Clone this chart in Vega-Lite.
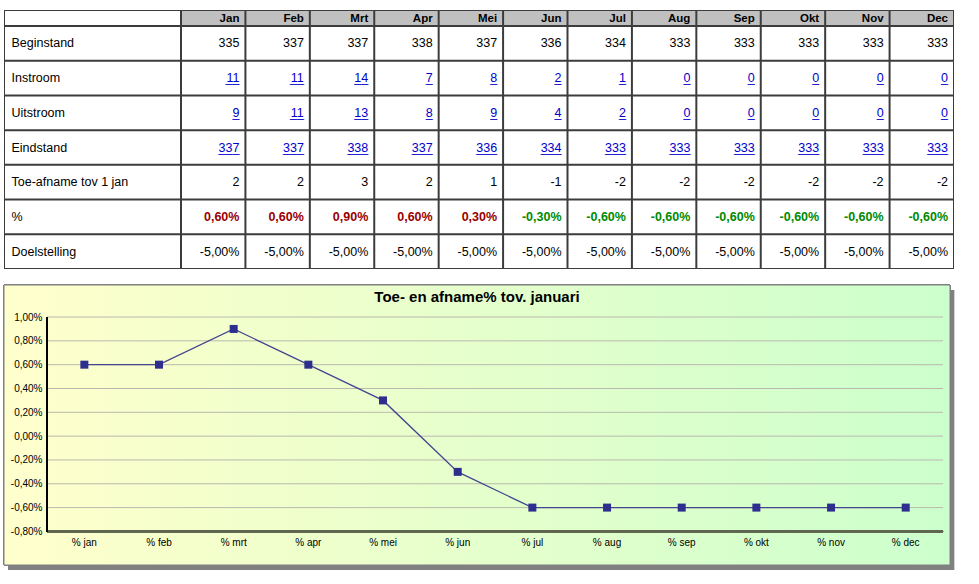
{
  "$schema": "https://vega.github.io/schema/vega-lite/v6.json",
  "padding": {"left": 3, "top": 10, "right": 5, "bottom": 5},
  "background": "white",
  "config": {
    "view": {"stroke": null},
    "font": "Liberation Sans",
    "text": {"font": "Liberation Sans"}
  },
  "datasets": {
    "table": [
      {"row": "Beginstand", "month": "Jan", "v": 335}, {"row": "Beginstand", "month": "Feb", "v": 337}, {"row": "Beginstand", "month": "Mrt", "v": 337}, {"row": "Beginstand", "month": "Apr", "v": 338}, {"row": "Beginstand", "month": "Mei", "v": 337}, {"row": "Beginstand", "month": "Jun", "v": 336}, {"row": "Beginstand", "month": "Jul", "v": 334}, {"row": "Beginstand", "month": "Aug", "v": 333}, {"row": "Beginstand", "month": "Sep", "v": 333}, {"row": "Beginstand", "month": "Okt", "v": 333}, {"row": "Beginstand", "month": "Nov", "v": 333}, {"row": "Beginstand", "month": "Dec", "v": 333},
      {"row": "Instroom", "month": "Jan", "v": 11}, {"row": "Instroom", "month": "Feb", "v": 11}, {"row": "Instroom", "month": "Mrt", "v": 14}, {"row": "Instroom", "month": "Apr", "v": 7}, {"row": "Instroom", "month": "Mei", "v": 8}, {"row": "Instroom", "month": "Jun", "v": 2}, {"row": "Instroom", "month": "Jul", "v": 1}, {"row": "Instroom", "month": "Aug", "v": 0}, {"row": "Instroom", "month": "Sep", "v": 0}, {"row": "Instroom", "month": "Okt", "v": 0}, {"row": "Instroom", "month": "Nov", "v": 0}, {"row": "Instroom", "month": "Dec", "v": 0},
      {"row": "Uitstroom", "month": "Jan", "v": 9}, {"row": "Uitstroom", "month": "Feb", "v": 11}, {"row": "Uitstroom", "month": "Mrt", "v": 13}, {"row": "Uitstroom", "month": "Apr", "v": 8}, {"row": "Uitstroom", "month": "Mei", "v": 9}, {"row": "Uitstroom", "month": "Jun", "v": 4}, {"row": "Uitstroom", "month": "Jul", "v": 2}, {"row": "Uitstroom", "month": "Aug", "v": 0}, {"row": "Uitstroom", "month": "Sep", "v": 0}, {"row": "Uitstroom", "month": "Okt", "v": 0}, {"row": "Uitstroom", "month": "Nov", "v": 0}, {"row": "Uitstroom", "month": "Dec", "v": 0},
      {"row": "Eindstand", "month": "Jan", "v": 337}, {"row": "Eindstand", "month": "Feb", "v": 337}, {"row": "Eindstand", "month": "Mrt", "v": 338}, {"row": "Eindstand", "month": "Apr", "v": 337}, {"row": "Eindstand", "month": "Mei", "v": 336}, {"row": "Eindstand", "month": "Jun", "v": 334}, {"row": "Eindstand", "month": "Jul", "v": 333}, {"row": "Eindstand", "month": "Aug", "v": 333}, {"row": "Eindstand", "month": "Sep", "v": 333}, {"row": "Eindstand", "month": "Okt", "v": 333}, {"row": "Eindstand", "month": "Nov", "v": 333}, {"row": "Eindstand", "month": "Dec", "v": 333},
      {"row": "Toe-afname tov 1 jan", "month": "Jan", "v": 2}, {"row": "Toe-afname tov 1 jan", "month": "Feb", "v": 2}, {"row": "Toe-afname tov 1 jan", "month": "Mrt", "v": 3}, {"row": "Toe-afname tov 1 jan", "month": "Apr", "v": 2}, {"row": "Toe-afname tov 1 jan", "month": "Mei", "v": 1}, {"row": "Toe-afname tov 1 jan", "month": "Jun", "v": -1}, {"row": "Toe-afname tov 1 jan", "month": "Jul", "v": -2}, {"row": "Toe-afname tov 1 jan", "month": "Aug", "v": -2}, {"row": "Toe-afname tov 1 jan", "month": "Sep", "v": -2}, {"row": "Toe-afname tov 1 jan", "month": "Okt", "v": -2}, {"row": "Toe-afname tov 1 jan", "month": "Nov", "v": -2}, {"row": "Toe-afname tov 1 jan", "month": "Dec", "v": -2},
      {"row": "%", "month": "Jan", "v": 0.006}, {"row": "%", "month": "Feb", "v": 0.006}, {"row": "%", "month": "Mrt", "v": 0.009}, {"row": "%", "month": "Apr", "v": 0.006}, {"row": "%", "month": "Mei", "v": 0.003}, {"row": "%", "month": "Jun", "v": -0.003}, {"row": "%", "month": "Jul", "v": -0.006}, {"row": "%", "month": "Aug", "v": -0.006}, {"row": "%", "month": "Sep", "v": -0.006}, {"row": "%", "month": "Okt", "v": -0.006}, {"row": "%", "month": "Nov", "v": -0.006}, {"row": "%", "month": "Dec", "v": -0.006},
      {"row": "Doelstelling", "month": "Jan", "v": -0.05}, {"row": "Doelstelling", "month": "Feb", "v": -0.05}, {"row": "Doelstelling", "month": "Mrt", "v": -0.05}, {"row": "Doelstelling", "month": "Apr", "v": -0.05}, {"row": "Doelstelling", "month": "Mei", "v": -0.05}, {"row": "Doelstelling", "month": "Jun", "v": -0.05}, {"row": "Doelstelling", "month": "Jul", "v": -0.05}, {"row": "Doelstelling", "month": "Aug", "v": -0.05}, {"row": "Doelstelling", "month": "Sep", "v": -0.05}, {"row": "Doelstelling", "month": "Okt", "v": -0.05}, {"row": "Doelstelling", "month": "Nov", "v": -0.05}, {"row": "Doelstelling", "month": "Dec", "v": -0.05}
    ],
    "pct": [
      {"m": 1, "maand": "% jan", "pct": 0.006}, {"m": 2, "maand": "% feb", "pct": 0.006}, {"m": 3, "maand": "% mrt", "pct": 0.009}, {"m": 4, "maand": "% apr", "pct": 0.006}, {"m": 5, "maand": "% mei", "pct": 0.003}, {"m": 6, "maand": "% jun", "pct": -0.003}, {"m": 7, "maand": "% jul", "pct": -0.006}, {"m": 8, "maand": "% aug", "pct": -0.006}, {"m": 9, "maand": "% sep", "pct": -0.006}, {"m": 10, "maand": "% okt", "pct": -0.006}, {"m": 11, "maand": "% nov", "pct": -0.006}, {"m": 12, "maand": "% dec", "pct": -0.006}
    ],
    "gridvals": [
      {"g": 0.01}, {"g": 0.008}, {"g": 0.006}, {"g": 0.004}, {"g": 0.002}, {"g": 0}, {"g": -0.002}, {"g": -0.004}, {"g": -0.006}
    ]
  },
  "spacing": 15,
  "vconcat": [
    {
      "spacing": 0,
      "vconcat": [
        {
          "spacing": 0,
          "hconcat": [
            {
              "width": 177, "height": 16,
              "view": {"fill": "#3c3c3c", "stroke": null},
              "data": {"name": "table"},
              "transform": [{"filter": "datum.row === 'Beginstand' && datum.month === 'Jan'"}],
              "mark": {"type": "rect", "fill": "white"},
              "encoding": {
                "x": {"field": "month", "type": "nominal", "scale": {"paddingInner": 0, "paddingOuter": 0.0057}, "axis": null},
                "y": {"field": "row", "type": "nominal", "scale": {"paddingInner": 0, "paddingOuter": 0.0715}, "axis": null}
              }
            },
            {
              "width": 773, "height": 16,
              "view": {"fill": "#3c3c3c", "stroke": null},
              "data": {"name": "table"},
              "transform": [{"filter": "datum.row === 'Beginstand'"}],
              "encoding": {
                "x": {"field": "month", "type": "nominal", "sort": null, "scale": {"paddingInner": 0.031, "paddingOuter": 0.0155}, "axis": null},
                "y": {"field": "row", "type": "nominal", "scale": {"paddingInner": 0, "paddingOuter": 0.0715}, "axis": null}
              },
              "layer": [
                {
                  "mark": {"type": "rect", "fill": "#c0c0c0"}
                },
                {
                  "mark": {"type": "text", "align": "right", "baseline": "middle", "dx": -5, "dy": 0.5, "fontSize": 11.5, "fontWeight": "bold", "color": "black"},
                  "encoding": {
                    "x": {"field": "month", "type": "nominal", "sort": null, "bandPosition": 1, "axis": null},
                    "text": {"field": "month", "type": "nominal"}
                  }
                }
              ]
            }
          ]
        },
        {
          "spacing": 0,
          "hconcat": [
            {
              "width": 177, "height": 243,
              "view": {"fill": "#3c3c3c", "stroke": null},
              "data": {"name": "table"},
              "transform": [{"filter": "datum.month === 'Jan'"}],
              "mark": {"type": "rect", "fill": "white"},
              "encoding": {
                "x": {"field": "month", "type": "nominal", "scale": {"paddingInner": 0, "paddingOuter": 0.0057}, "axis": null},
                "y": {"field": "row", "type": "nominal", "sort": null, "scale": {"paddingInner": 0.0576, "paddingOuter": 0.0288},
                  "axis": {"orient": "left", "title": null, "labelAlign": "left", "labelPadding": -7, "ticks": false, "tickSize": 0, "domain": false, "grid": false, "zindex": 1, "labelFontSize": 12.5, "labelColor": "black", "labelFont": "Liberation Sans", "labelLimit": 0, "labelOverlap": false}}
              }
            },
            {
              "width": 773, "height": 243,
              "view": {"fill": "#3c3c3c", "stroke": null},
              "data": {"name": "table"},
              "transform": [
                {"calculate": "replace(replace(format(datum.v, (datum.row === '%' || datum.row === 'Doelstelling') ? '.2%' : 'd'), '.', ','), '\u2212', '-')", "as": "txt"},
                {"calculate": "datum.v >= 100 ? '___' : (datum.v >= 10 ? '__' : '_')", "as": "u"}
              ],
              "encoding": {
                "x": {"field": "month", "type": "nominal", "sort": null, "scale": {"paddingInner": 0.031, "paddingOuter": 0.0155}, "axis": null},
                "y": {"field": "row", "type": "nominal", "sort": null, "scale": {"paddingInner": 0.0576, "paddingOuter": 0.0288}, "axis": null}
              },
              "layer": [
                {
                  "mark": {"type": "rect", "fill": "white"}
                },
                {
                  "transform": [{"filter": "datum.row === 'Beginstand' || datum.row === 'Toe-afname tov 1 jan' || datum.row === 'Doelstelling'"}],
                  "mark": {"type": "text", "align": "right", "baseline": "middle", "dx": -5, "fontSize": 12.5, "color": "black"},
                  "encoding": {
                    "x": {"field": "month", "type": "nominal", "sort": null, "bandPosition": 1, "axis": null},
                    "text": {"field": "txt", "type": "nominal"}
                  }
                },
                {
                  "transform": [{"filter": "datum.row === 'Instroom' || datum.row === 'Uitstroom' || datum.row === 'Eindstand'"}],
                  "mark": {"type": "text", "align": "right", "baseline": "middle", "dx": -5, "fontSize": 12.5, "color": "#0000cc"},
                  "encoding": {
                    "x": {"field": "month", "type": "nominal", "sort": null, "bandPosition": 1, "axis": null},
                    "text": {"field": "txt", "type": "nominal"}
                  }
                },
                {
                  "transform": [{"filter": "datum.row === 'Instroom' || datum.row === 'Uitstroom' || datum.row === 'Eindstand'"}],
                  "mark": {"type": "text", "align": "right", "baseline": "middle", "dx": -5, "fontSize": 12.5, "color": "#0000cc"},
                  "encoding": {
                    "x": {"field": "month", "type": "nominal", "sort": null, "bandPosition": 1, "axis": null},
                    "text": {"field": "u", "type": "nominal"}
                  }
                },
                {
                  "transform": [{"filter": "datum.row === '%'"}],
                  "mark": {"type": "text", "align": "right", "baseline": "middle", "dx": -5, "fontSize": 12.5, "fontWeight": "bold"},
                  "encoding": {
                    "x": {"field": "month", "type": "nominal", "sort": null, "bandPosition": 1, "axis": null},
                    "text": {"field": "txt", "type": "nominal"},
                    "color": {"condition": {"test": "datum.v >= 0", "value": "#990000"}, "value": "#008a00"}
                  }
                }
              ]
            }
          ]
        }
      ]
    },
    {
      "width": 946, "height": 280,
      "data": {"name": "pct"},
      "title": {"text": "Toe- en afname% tov. januari", "fontSize": 15, "fontWeight": "bold", "font": "Liberation Sans", "color": "black", "anchor": "middle", "baseline": "bottom", "offset": -21, "dy": 14},
      "layer": [
        {
          "mark": {"type": "rect", "color": "#808080"},
          "encoding": {
            "x": {"datum": -0.022, "type": "quantitative", "axis": null},
            "x2": {"datum": 12.647},
            "y": {"datum": 0.01227, "type": "quantitative", "axis": {"title": null, "values": [-0.008, -0.006, -0.004, -0.002, 0, 0.002, 0.004, 0.006, 0.008, 0.01], "labelExpr": "replace(replace(format(datum.value, '.2%'), '.', ','), '\u2212', '-')", "offset": -43, "domain": false, "ticks": false, "tickSize": 0, "grid": false, "labelPadding": 5, "labelFontSize": 10, "labelColor": "black", "labelFont": "Liberation Sans", "labelOverlap": false, "labelFlush": false, "zindex": 1}},
            "y2": {"datum": -0.01124}
          }
        },
        {
          "mark": {"type": "rect", "stroke": "#808080", "strokeWidth": 1,
            "color": {"gradient": "linear", "x1": 0, "y1": 0, "x2": 1, "y2": 0, "stops": [{"offset": 0, "color": "#ffffcc"}, {"offset": 1, "color": "#ccffcc"}]}},
          "encoding": {
            "x": {"datum": -0.076, "type": "quantitative", "axis": null},
            "x2": {"datum": 12.593},
            "y": {"datum": 0.01269, "type": "quantitative", "axis": {"title": null, "values": [-0.008, -0.006, -0.004, -0.002, 0, 0.002, 0.004, 0.006, 0.008, 0.01], "labelExpr": "replace(replace(format(datum.value, '.2%'), '.', ','), '\u2212', '-')", "offset": -43, "domain": false, "ticks": false, "tickSize": 0, "grid": false, "labelPadding": 5, "labelFontSize": 10, "labelColor": "black", "labelFont": "Liberation Sans", "labelOverlap": false, "labelFlush": false, "zindex": 1}},
            "y2": {"datum": -0.01082}
          }
        },
        {
          "data": {"name": "gridvals"},
          "mark": {"type": "rule", "color": "#b9b9b0", "strokeWidth": 1},
          "encoding": {
            "x": {"datum": 0.5, "type": "quantitative", "axis": null},
            "x2": {"datum": 12.5},
            "y": {"field": "g", "type": "quantitative", "axis": {"title": null, "values": [-0.008, -0.006, -0.004, -0.002, 0, 0.002, 0.004, 0.006, 0.008, 0.01], "labelExpr": "replace(replace(format(datum.value, '.2%'), '.', ','), '\u2212', '-')", "offset": -43, "domain": false, "ticks": false, "tickSize": 0, "grid": false, "labelPadding": 5, "labelFontSize": 10, "labelColor": "black", "labelFont": "Liberation Sans", "labelOverlap": false, "labelFlush": false, "zindex": 1}}
          }
        },
        {
          "mark": {"type": "rule", "color": "#5f6650", "strokeWidth": 1.6},
          "encoding": {
            "x": {"datum": 0.5, "type": "quantitative", "axis": null},
            "x2": {"datum": 12.5},
            "y": {"datum": -0.008, "type": "quantitative", "axis": {"title": null, "values": [-0.008, -0.006, -0.004, -0.002, 0, 0.002, 0.004, 0.006, 0.008, 0.01], "labelExpr": "replace(replace(format(datum.value, '.2%'), '.', ','), '\u2212', '-')", "offset": -43, "domain": false, "ticks": false, "tickSize": 0, "grid": false, "labelPadding": 5, "labelFontSize": 10, "labelColor": "black", "labelFont": "Liberation Sans", "labelOverlap": false, "labelFlush": false, "zindex": 1}}
          }
        },
        {
          "mark": {"type": "rule", "color": "black", "strokeWidth": 1.4},
          "encoding": {
            "x": {"datum": 0.5, "type": "quantitative", "axis": null},
            "y": {"datum": -0.008, "type": "quantitative", "axis": {"title": null, "values": [-0.008, -0.006, -0.004, -0.002, 0, 0.002, 0.004, 0.006, 0.008, 0.01], "labelExpr": "replace(replace(format(datum.value, '.2%'), '.', ','), '\u2212', '-')", "offset": -43, "domain": false, "ticks": false, "tickSize": 0, "grid": false, "labelPadding": 5, "labelFontSize": 10, "labelColor": "black", "labelFont": "Liberation Sans", "labelOverlap": false, "labelFlush": false, "zindex": 1}},
            "y2": {"datum": 0.01}
          }
        },
        {
          "mark": {"type": "line", "color": "#45458f", "strokeWidth": 1.3},
          "encoding": {
            "x": {"field": "m", "type": "quantitative", "scale": {"domain": [-0.076, 12.593], "nice": false, "zero": false}, "axis": null},
            "y": {"field": "pct", "type": "quantitative", "scale": {"domain": [-0.01082, 0.01269], "nice": false, "zero": false},
              "axis": {"title": null, "values": [-0.008, -0.006, -0.004, -0.002, 0, 0.002, 0.004, 0.006, 0.008, 0.01], "labelExpr": "replace(replace(format(datum.value, '.2%'), '.', ','), '\u2212', '-')", "offset": -43, "domain": false, "ticks": false, "tickSize": 0, "grid": false, "labelPadding": 5, "labelFontSize": 10, "labelColor": "black", "labelFont": "Liberation Sans", "labelOverlap": false, "labelFlush": false, "zindex": 1}}
          }
        },
        {
          "mark": {"type": "point", "shape": "square", "size": 64, "filled": true, "opacity": 1, "color": "#2e2e8e"},
          "encoding": {
            "x": {"field": "m", "type": "quantitative", "axis": null},
            "y": {"field": "pct", "type": "quantitative", "axis": {"title": null, "values": [-0.008, -0.006, -0.004, -0.002, 0, 0.002, 0.004, 0.006, 0.008, 0.01], "labelExpr": "replace(replace(format(datum.value, '.2%'), '.', ','), '\u2212', '-')", "offset": -43, "domain": false, "ticks": false, "tickSize": 0, "grid": false, "labelPadding": 5, "labelFontSize": 10, "labelColor": "black", "labelFont": "Liberation Sans", "labelOverlap": false, "labelFlush": false, "zindex": 1}}
          }
        },
        {
          "mark": {"type": "text", "fontSize": 10, "color": "black", "baseline": "middle", "dy": 12},
          "encoding": {
            "x": {"field": "m", "type": "quantitative", "axis": null},
            "y": {"datum": -0.008, "type": "quantitative", "axis": {"title": null, "values": [-0.008, -0.006, -0.004, -0.002, 0, 0.002, 0.004, 0.006, 0.008, 0.01], "labelExpr": "replace(replace(format(datum.value, '.2%'), '.', ','), '\u2212', '-')", "offset": -43, "domain": false, "ticks": false, "tickSize": 0, "grid": false, "labelPadding": 5, "labelFontSize": 10, "labelColor": "black", "labelFont": "Liberation Sans", "labelOverlap": false, "labelFlush": false, "zindex": 1}},
            "text": {"field": "maand", "type": "nominal"}
          }
        }
      ]
    }
  ]
}
